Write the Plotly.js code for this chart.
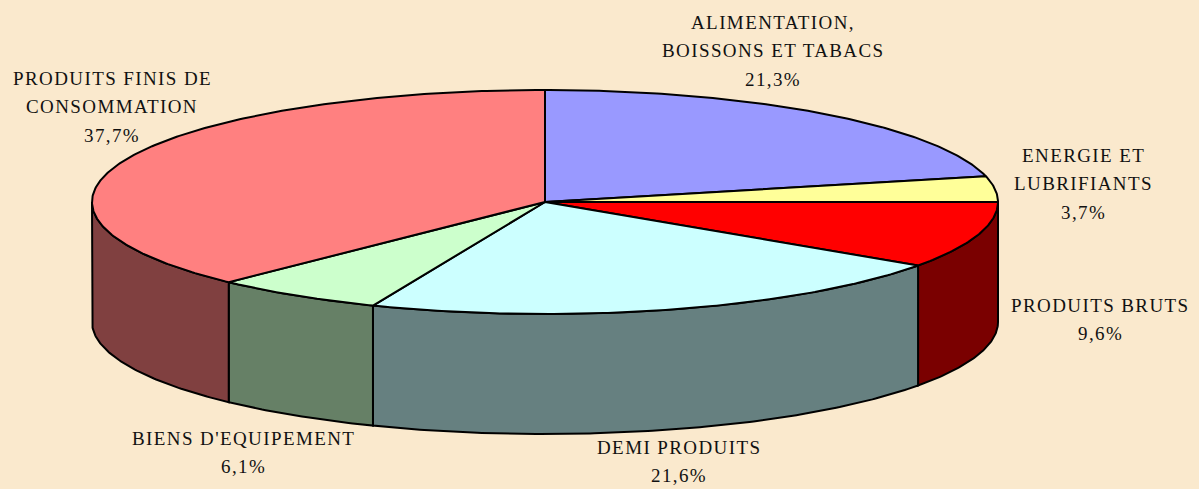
<!DOCTYPE html>
<html>
<head>
<meta charset="utf-8">
<script src="https://cdn.plot.ly/plotly-3.0.1.min.js"></script>
<style>
  html, body { margin: 0; padding: 0; background: #FAE9CD; }
  #chart { width: 1199px; height: 489px; }
  .annotation-text { letter-spacing: 1.4px; }
</style>
</head>
<body>
<div id="chart"></div>
<script>
// ---- data ----
const categories = [
  "ALIMENTATION,\nBOISSONS ET TABACS",
  "ENERGIE ET\nLUBRIFIANTS",
  "PRODUITS BRUTS",
  "DEMI PRODUITS",
  "BIENS D'EQUIPEMENT",
  "PRODUITS FINIS DE\nCONSOMMATION"
];
const values = [21.3, 3.7, 9.6, 21.6, 6.1, 37.7];
const valueLabels = ["21,3%", "3,7%", "9,6%", "21,6%", "6,1%", "37,7%"];

// ---- styling ----
const topColors  = ["#9999FF", "#FFFF99", "#FF0000", "#CCFFFF", "#CCFFCC", "#FF8080"];
const sideColors = ["#4D4D80", "#808050", "#7A0000", "#668080", "#668066", "#804040"];
const geom = { cx: 545, cy: 202, rx: 453, ry: 112, depth: 120 };
// label anchor positions (centre x, first-line y) and line pitch
const labelPos = [
  [773, 22], [1083, 155], [1100, 305], [679, 447], [243, 438], [112, 78]
];
const linePitch = 28.5;

function pt(t, dy) {
  return [geom.cx + geom.rx * Math.sin(t), geom.cy - geom.ry * Math.cos(t) + (dy || 0)];
}

const total = values.reduce((a, b) => a + b, 0);
const traces = [];
const tops = [];
let cum = 0;
const TWO_PI = 2 * Math.PI;
values.forEach((v, i) => {
  const t1 = cum / total * TWO_PI;
  cum += v;
  const t2 = cum / total * TWO_PI;
  // top wedge
  const xs = [geom.cx], ys = [geom.cy];
  const n = Math.max(4, Math.ceil((t2 - t1) / 0.01));
  for (let k = 0; k <= n; k++) {
    const p = pt(t1 + (t2 - t1) * k / n);
    xs.push(p[0]); ys.push(p[1]);
  }
  xs.push(geom.cx); ys.push(geom.cy);
  tops.push({
    type: "scatter", mode: "lines", x: xs, y: ys, fill: "toself",
    fillcolor: topColors[i], line: { color: "#000", width: 2 },
    hoverinfo: "skip", showlegend: false
  });
  // visible front side (angles between 90 and 270 deg)
  const a = Math.max(t1, Math.PI / 2), b = Math.min(t2, 3 * Math.PI / 2);
  if (b > a) {
    const sx = [], sy = [];
    const m = Math.max(4, Math.ceil((b - a) / 0.01));
    for (let k = 0; k <= m; k++) {
      const p = pt(a + (b - a) * k / m);
      sx.push(p[0]); sy.push(p[1]);
    }
    for (let k = m; k >= 0; k--) {
      const p = pt(a + (b - a) * k / m, geom.depth);
      sx.push(p[0]); sy.push(p[1]);
    }
    sx.push(sx[0]); sy.push(sy[0]);
    traces.push({
      type: "scatter", mode: "lines", x: sx, y: sy, fill: "toself",
      fillcolor: sideColors[i], line: { color: "#000", width: 2 },
      hoverinfo: "skip", showlegend: false
    });
  }
});

const annotations = [];
categories.forEach((c, i) => {
  const lines = c.split("\n").concat([valueLabels[i]]);
  lines.forEach((ln, j) => {
    annotations.push({
      xref: "x", yref: "y", x: labelPos[i][0], y: labelPos[i][1] + j * linePitch,
      text: ln, showarrow: false, xanchor: "center", yanchor: "middle",
      font: { family: "Liberation Serif, Times New Roman, serif", size: 19, color: "#111" }
    });
  });
});

const layout = {
  width: 1199, height: 489,
  margin: { l: 0, r: 0, t: 0, b: 0 },
  paper_bgcolor: "#FAE9CD", plot_bgcolor: "rgba(0,0,0,0)",
  xaxis: { range: [0, 1199], visible: false, fixedrange: true },
  yaxis: { range: [489, 0], visible: false, fixedrange: true },
  annotations: annotations,
  showlegend: false
};

Plotly.newPlot("chart", traces.concat(tops), layout, { displayModeBar: false, staticPlot: true });
</script>
</body>
</html>
